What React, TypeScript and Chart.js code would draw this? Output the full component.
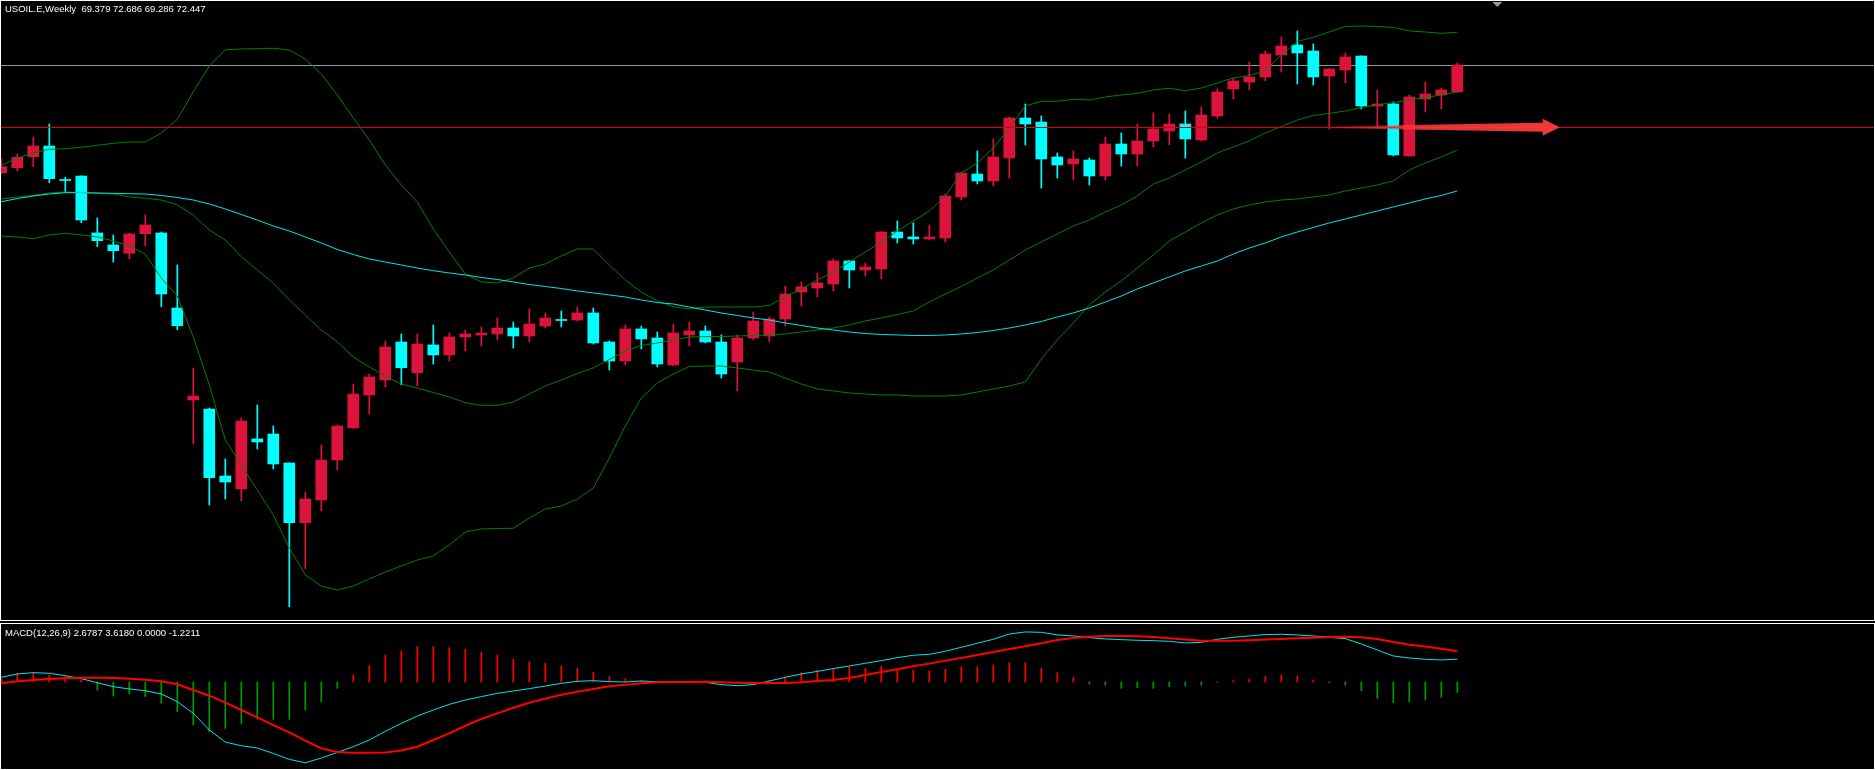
import React, { useEffect, useRef } from "react";
import { Chart, registerables } from "chart.js";

Chart.register(...registerables);

// ---------------- data (weekly USOIL.E) ----------------
const symbolTitle = "USOIL.E,Weekly";
const lastBarText = "69.379 72.686 69.286 72.447";
const macdTitle = "MACD(12,26,9)";
const macdText = "2.6787 3.6180 0.0000 -1.2211";

const openP = [
  60.06, 60.63, 61.90, 63.13, 59.28, 59.68, 53.13, 51.75, 50.79, 53.04,
  53.13, 44.50, 33.92, 32.89, 25.18, 23.69, 29.44, 30.01, 26.68, 19.81,
  22.42, 27.02, 30.73, 34.50, 36.22, 40.59, 37.06, 40.25, 39.10, 41.17,
  41.40, 41.51, 42.20, 41.28, 42.43, 43.18, 43.12, 43.93, 40.59, 38.41,
  42.09, 41.05, 37.95, 41.40, 41.86, 40.59, 38.29, 41.05, 41.28, 43.24,
  46.34, 46.80, 47.26, 49.91, 48.87, 48.99, 53.24, 52.67, 52.44, 52.55,
  57.27, 59.91, 59.11, 61.75, 66.35, 65.89, 61.87, 61.06, 61.52, 59.68,
  63.36, 62.21, 63.71, 64.86, 65.66, 63.82, 66.58, 69.69, 70.49, 71.07,
  73.60, 74.75, 74.06, 71.18, 71.87, 73.48, 67.73, 67.96, 61.98, 68.54,
  68.99, 69.379,
];
const highP = [
  61.64, 62.21, 64.17, 65.66, 59.53, 59.70, 54.85, 52.90, 53.09, 55.20,
  53.24, 49.45, 37.60, 33.00, 27.14, 31.85, 33.35, 30.93, 26.70, 23.34,
  28.75, 31.05, 35.76, 36.91, 40.71, 41.51, 41.51, 42.55, 41.63, 41.97,
  42.32, 43.35, 42.89, 44.39, 43.93, 44.16, 44.62, 44.50, 40.71, 42.55,
  42.43, 41.74, 42.66, 42.89, 42.43, 41.40, 41.40, 44.04, 43.47, 47.03,
  47.49, 48.53, 50.14, 49.95, 49.68, 53.28, 54.51, 54.28, 54.05, 57.61,
  60.14, 62.56, 63.94, 66.47, 67.96, 66.58, 62.33, 62.56, 61.75, 64.17,
  64.63, 65.66, 66.93, 66.81, 67.16, 67.62, 69.69, 70.95, 72.79, 74.06,
  75.67, 76.36, 74.86, 72.02, 73.83, 73.50, 69.57, 68.19, 68.99, 70.49,
  69.80, 72.686,
];
const lowP = [
  59.91, 60.29, 60.75, 58.91, 57.76, 54.31, 51.55, 49.79, 50.14, 51.66,
  44.65, 42.00, 28.89, 21.85, 22.54, 22.31, 28.29, 25.99, 10.15, 14.52,
  21.16, 25.87, 30.65, 32.31, 35.42, 35.65, 35.53, 38.06, 38.41, 39.56,
  40.13, 40.82, 39.90, 40.59, 42.20, 42.32, 43.01, 40.36, 37.37, 37.95,
  39.79, 37.72, 37.83, 40.13, 40.48, 36.45, 34.96, 40.82, 40.59, 42.43,
  44.73, 45.77, 46.46, 46.80, 48.18, 47.84, 51.98, 51.86, 52.32, 52.09,
  56.92, 58.76, 58.53, 59.45, 63.25, 58.30, 59.45, 59.22, 58.65, 59.22,
  60.83, 60.83, 63.02, 63.25, 61.75, 63.71, 66.35, 68.54, 69.57, 70.61,
  71.64, 70.26, 70.15, 65.09, 70.38, 67.39, 65.43, 61.98, 61.95, 67.04,
  67.39, 69.286,
];
const closeP = [
  60.75, 61.83, 63.13, 59.37, 59.16, 54.62, 52.24, 51.09, 53.01, 54.05,
  46.11, 42.46, 34.38, 24.98, 24.49, 31.51, 29.09, 26.56, 19.81, 22.54,
  27.02, 30.93, 34.61, 36.57, 40.02, 37.63, 40.36, 39.10, 41.17, 41.51,
  41.63, 42.20, 41.28, 42.66, 43.35, 43.06, 43.93, 40.48, 38.41, 42.09,
  40.94, 38.06, 41.63, 41.86, 40.59, 36.91, 41.05, 43.01, 43.24, 46.11,
  46.92, 47.38, 49.91, 48.87, 49.22, 53.24, 52.55, 52.44, 52.67, 57.38,
  60.03, 59.11, 61.87, 66.35, 65.66, 61.64, 60.95, 61.64, 59.68, 63.36,
  62.21, 63.71, 65.09, 65.66, 63.94, 66.70, 69.34, 70.61, 71.07, 73.71,
  74.63, 73.83, 71.07, 71.99, 73.37, 67.73, 67.96, 62.10, 68.77, 69.11,
  69.57, 72.447,
];

const bbUpper = [
  60.91, 61.72, 62.36, 62.75, 62.82, 62.98, 63.21, 63.44, 63.59, 63.59,
  64.63, 66.20, 69.37, 72.33, 74.20, 74.29, 74.32, 74.37, 74.17, 73.14,
  71.41, 69.00, 66.35, 63.82, 60.95, 58.65, 56.69, 53.59, 50.94, 48.41,
  47.49, 47.38, 47.95, 49.10, 49.56, 50.48, 51.29, 51.29, 49.45, 47.72,
  46.34, 45.31, 44.65, 44.39, 44.62, 44.62, 44.62, 44.62, 44.79, 45.77,
  46.69, 47.72, 48.64, 49.79, 50.94, 52.09, 53.36, 54.51, 55.66, 57.38,
  60.03, 61.18, 62.90, 65.20, 67.73, 68.27, 68.27, 68.50, 68.42, 68.77,
  69.00, 69.19, 69.57, 69.77, 69.49, 69.80, 70.38, 70.95, 71.24, 71.76,
  73.60, 75.15, 75.63, 76.24, 76.87, 76.93, 76.87, 76.78, 76.36, 76.24,
  76.09, 76.21,
];
const bbMiddle = [
  57.04, 57.27, 57.44, 57.73, 57.84, 57.78, 57.67, 57.61, 57.27, 57.12,
  56.92, 56.35, 55.20, 53.47, 52.32, 50.40, 48.87, 47.38, 45.42, 43.70,
  41.97, 40.59, 38.87, 37.72, 36.68, 35.76, 35.30, 34.78, 34.27, 33.61,
  33.31, 33.31, 33.69, 34.61, 35.53, 36.22, 36.97, 37.60, 38.58, 39.56,
  40.19, 40.48, 40.82, 41.17, 41.20, 41.22, 41.28, 41.34, 41.40, 41.51,
  41.74, 41.97, 42.20, 42.55, 43.01, 43.35, 43.75, 44.16, 45.19, 46.11,
  46.97, 47.95, 48.87, 50.02, 51.17, 52.09, 53.01, 53.93, 54.62, 55.54,
  56.35, 57.38, 58.76, 59.45, 60.37, 61.29, 62.33, 63.02, 63.71, 64.63,
  65.37, 66.12, 66.64, 66.87, 67.16, 67.56, 67.85, 68.13, 68.42, 68.71,
  69.00, 69.37,
];
const bbLower = [
  52.78, 52.67, 52.47, 52.90, 53.09, 52.90, 52.67, 52.21, 51.63, 50.71,
  47.95, 45.88, 41.17, 35.65, 29.32, 26.45, 23.57, 20.70, 16.90, 13.80,
  12.53, 12.07, 12.53, 13.34, 14.14, 14.83, 15.52, 15.98, 17.25, 18.74,
  19.09, 19.14, 19.17, 20.35, 21.39, 21.73, 22.54, 23.80, 27.25, 30.93,
  34.15, 35.88, 36.91, 37.77, 37.83, 37.83, 37.60, 37.37, 37.14, 36.45,
  35.76, 35.19, 34.96, 34.73, 34.61, 34.50, 34.50, 34.38, 34.38, 34.38,
  34.50, 34.84, 35.19, 35.53, 35.99, 38.64, 40.82, 42.78, 44.85, 46.34,
  47.61, 49.10, 50.60, 52.21, 53.24, 54.28, 55.20, 55.89, 56.35, 56.69,
  56.92, 57.04, 57.27, 57.50, 57.96, 58.30, 58.65, 59.11, 60.37, 61.18,
  61.87, 62.67,
];
const maSlow = [
  56.72, 57.09, 57.38, 57.61, 57.76, 57.76, 57.73, 57.69, 57.64, 57.61,
  57.44, 57.21, 56.92, 56.46, 55.89, 55.25, 54.62, 53.93, 53.36, 52.67,
  51.98, 51.23, 50.65, 50.14, 49.79, 49.45, 49.10, 48.79, 48.53, 48.30,
  48.01, 47.78, 47.49, 47.20, 46.97, 46.74, 46.46, 46.23, 46.00, 45.77,
  45.42, 45.13, 44.96, 44.61, 44.27, 43.93, 43.64, 43.35, 43.12, 42.78,
  42.49, 42.20, 41.97, 41.74, 41.57, 41.45, 41.40, 41.34, 41.34, 41.40,
  41.51, 41.68, 41.91, 42.20, 42.55, 42.95, 43.47, 43.93, 44.50, 45.19,
  45.88, 46.69, 47.38, 48.07, 48.76, 49.33, 49.91, 50.71, 51.40, 51.98,
  52.67, 53.24, 53.76, 54.28, 54.74, 55.20, 55.66, 56.12, 56.58, 57.04,
  57.44, 57.96,
];

const macdMain = [
  0.55, 0.94, 1.10, 1.02, 0.74, 0.39, -0.08, -0.55, -0.82, -1.02,
  -1.41, -2.31, -3.68, -5.64, -7.06, -7.49, -7.76, -8.39, -9.09, -9.49,
  -8.94, -8.27, -7.60, -6.82, -5.80, -4.86, -4.00, -3.29, -2.63, -2.12,
  -1.72, -1.33, -1.06, -0.78, -0.47, -0.16, 0.08, 0.16, 0.04, 0.00,
  0.12, 0.04, 0.00, 0.04, -0.04, -0.31, -0.43, -0.31, 0.12, 0.55,
  0.94, 1.25, 1.57, 1.88, 2.20, 2.51, 2.86, 3.14, 3.25, 3.61,
  4.08, 4.55, 5.02, 5.64, 5.88, 5.84, 5.53, 5.41, 5.21, 5.06,
  4.98, 4.90, 4.86, 4.78, 4.59, 4.66, 5.02, 5.25, 5.41, 5.57,
  5.61, 5.53, 5.41, 5.25, 5.10, 4.47, 3.76, 3.06, 2.82, 2.67,
  2.59, 2.68,
];
const macdSignal = [
  -0.16, 0.08, 0.24, 0.35, 0.43, 0.51, 0.51, 0.47, 0.39, 0.27,
  0.08, -0.27, -0.94, -1.61, -2.43, -3.29, -4.16, -5.06, -5.92, -6.90,
  -7.80, -8.23, -8.31, -8.31, -8.27, -8.04, -7.60, -6.82, -6.04, -5.14,
  -4.35, -3.68, -3.02, -2.43, -1.96, -1.49, -1.14, -0.82, -0.51, -0.31,
  -0.16, -0.04, 0.00, 0.00, 0.04, -0.04, -0.08, -0.12, -0.08, -0.12,
  -0.04, 0.12, 0.24, 0.47, 0.82, 1.18, 1.49, 1.84, 2.16, 2.51,
  2.82, 3.18, 3.53, 3.88, 4.19, 4.55, 4.94, 5.17, 5.33, 5.41,
  5.41, 5.37, 5.29, 5.14, 4.98, 4.86, 4.86, 4.86, 4.90, 4.98,
  5.06, 5.14, 5.21, 5.29, 5.33, 5.25, 5.06, 4.70, 4.39, 4.16,
  3.92, 3.62,
];
const macdHist = [
  0.40, 1.02, 1.14, 0.82, 0.63, 0.24, -0.94, -1.65, -1.41, -1.72,
  -2.51, -3.49, -5.06, -5.84, -5.45, -4.86, -4.39, -4.39, -4.39, -3.29,
  -2.31, -0.74, 0.82, 1.92, 3.18, 3.65, 4.16, 4.16, 4.04, 3.84,
  3.49, 3.18, 2.67, 2.39, 2.20, 1.88, 1.61, 1.14, 0.63, 0.39,
  0.16, 0.08, 0.04, 0.08, 0.12, -0.08, -0.16, -0.08, 0.16, 0.63,
  1.10, 1.41, 1.61, 1.80, 1.61, 1.88, 1.61, 1.41, 1.33, 1.49,
  1.80, 1.80, 2.00, 2.27, 2.27, 1.61, 1.10, 0.55, -0.24, -0.35,
  -0.74, -0.67, -0.74, -0.55, -0.47, -0.35, 0.04, 0.16, 0.31, 0.63,
  0.82, 0.71, 0.24, -0.08, -0.35, -1.02, -1.92, -2.43, -2.31, -2.12,
  -1.80, -1.22,
];

const bidPrice = 72.447;
const levelPrice = 65.28;
const arrowFromBar = 83.2;
const arrowToBar = 97.4;
const arrowPrice = 65.3;
const shiftMarkBar = 93.5;

// ---------------- view ----------------
const PRICE_MIN = 8.62;
const PRICE_MAX = 79.805;
const MACD_MIN = -10.2225;
const MACD_MAX = 6.815;
const X_MIN = -0.019;
const X_MAX = 117.044;

const BULL = "#DC143C";
const BEAR = "#00FFFF";
const BAND = "#008000";
const MA_COL = "#00E5EE";
const FONT = '9.5px "Liberation Sans", Arial, sans-serif';

const mainOverlay = {
  id: "mainOverlay",
  beforeDatasetsDraw(chart: any) {
    const { ctx, chartArea, scales } = chart;
    const y = Math.round(scales.y.getPixelForValue(bidPrice)) + 0.5;
    ctx.save();
    ctx.strokeStyle = "#8E9AA6";
    ctx.lineWidth = 1;
    ctx.beginPath();
    ctx.moveTo(chartArea.left, y);
    ctx.lineTo(chartArea.right, y);
    ctx.stroke();
    ctx.restore();
  },
  afterDatasetsDraw(chart: any) {
    const { ctx, chartArea, scales } = chart;
    const xs = scales.x;
    const ys = scales.y;
    ctx.save();
    const yl = Math.round(ys.getPixelForValue(levelPrice)) + 0.5;
    ctx.strokeStyle = "#E00000";
    ctx.lineWidth = 1;
    ctx.beginPath();
    ctx.moveTo(chartArea.left, yl);
    ctx.lineTo(chartArea.right, yl);
    ctx.stroke();
    const x0 = xs.getPixelForValue(arrowFromBar);
    const x1 = xs.getPixelForValue(arrowToBar);
    const ya = ys.getPixelForValue(arrowPrice);
    const headLen = 17;
    const grad = ctx.createLinearGradient(x0, 0, x1, 0);
    grad.addColorStop(0, "rgba(255,60,60,0.25)");
    grad.addColorStop(0.4, "rgba(255,60,60,0.85)");
    grad.addColorStop(1, "rgba(255,60,60,0.95)");
    ctx.fillStyle = grad;
    ctx.beginPath();
    ctx.moveTo(x0, ya - 1);
    ctx.lineTo(x1 - headLen, ya - 4.5);
    ctx.lineTo(x1 - headLen, ya - 8.5);
    ctx.lineTo(x1, ya);
    ctx.lineTo(x1 - headLen, ya + 8.5);
    ctx.lineTo(x1 - headLen, ya + 4.5);
    ctx.lineTo(x0, ya + 1);
    ctx.closePath();
    ctx.fill();
    const xm = xs.getPixelForValue(shiftMarkBar);
    ctx.fillStyle = "#8E9AA6";
    ctx.beginPath();
    ctx.moveTo(xm - 5, chartArea.top + 1);
    ctx.lineTo(xm + 5, chartArea.top + 1);
    ctx.lineTo(xm, chartArea.top + 6);
    ctx.closePath();
    ctx.fill();
    ctx.restore();
  },
};

function MainPanel() {
  const ref = useRef<HTMLCanvasElement | null>(null);
  useEffect(() => {
    const idx = closeP.map((_, i) => i);
    const colors = idx.map((i) => (closeP[i] >= openP[i] ? BULL : BEAR));
    const line = (vals: number[], color: string, order: number) => ({
      type: "line" as const,
      data: idx.map((i) => ({ x: i, y: vals[i] })),
      borderColor: color,
      borderWidth: 1,
      pointRadius: 0,
      tension: 0,
      fill: false,
      order,
    });
    const chart = new Chart(ref.current as HTMLCanvasElement, {
      type: "bar",
      data: {
        datasets: [
          line(bbUpper, BAND, 1),
          line(bbMiddle, BAND, 1),
          line(bbLower, BAND, 1),
          line(maSlow, MA_COL, 0),
          {
            type: "bar",
            data: idx.map((i) => ({ x: i, y: [openP[i], closeP[i]] })),
            backgroundColor: colors,
            borderWidth: 0,
            barThickness: 11,
            minBarLength: 1,
            grouped: false,
            order: 5,
          } as any,
          {
            type: "bar",
            data: idx.map((i) => ({ x: i, y: [lowP[i], highP[i]] })),
            backgroundColor: colors,
            borderWidth: 0,
            barThickness: 1,
            grouped: false,
            order: 6,
          } as any,
        ],
      },
      options: {
        responsive: false,
        animation: false,
        events: [],
        layout: { padding: 0 },
        plugins: { legend: { display: false }, tooltip: { enabled: false } },
        scales: {
          x: { type: "linear", min: X_MIN, max: X_MAX, display: false, offset: false },
          y: { type: "linear", min: PRICE_MIN, max: PRICE_MAX, display: false },
        },
      } as any,
      plugins: [mainOverlay],
    });
    return () => chart.destroy();
  }, []);
  return (
    <canvas
      ref={ref}
      width={1873}
      height={619}
      style={{ position: "absolute", left: 1, top: 1, width: 1873, height: 619 }}
    />
  );
}

function MacdPanel() {
  const ref = useRef<HTMLCanvasElement | null>(null);
  useEffect(() => {
    const idx = macdHist.map((_, i) => i);
    const chart = new Chart(ref.current as HTMLCanvasElement, {
      type: "bar",
      data: {
        datasets: [
          {
            type: "line",
            data: idx.map((i) => ({ x: i, y: macdSignal[i] })),
            borderColor: "#FF0000",
            borderWidth: 2,
            pointRadius: 0,
            tension: 0,
            order: 0,
          } as any,
          {
            type: "line",
            data: idx.map((i) => ({ x: i, y: macdMain[i] })),
            borderColor: "#00E5EE",
            borderWidth: 1,
            pointRadius: 0,
            tension: 0,
            order: 1,
          } as any,
          {
            type: "bar",
            data: idx.map((i) => ({ x: i, y: [0, macdHist[i]] })),
            backgroundColor: idx.map((i) => (macdHist[i] >= 0 ? "#FF0000" : "#009A00")),
            borderWidth: 0,
            barThickness: 1,
            grouped: false,
            order: 2,
          } as any,
        ],
      },
      options: {
        responsive: false,
        animation: false,
        events: [],
        layout: { padding: 0 },
        plugins: { legend: { display: false }, tooltip: { enabled: false } },
        scales: {
          x: { type: "linear", min: X_MIN, max: X_MAX, display: false, offset: false },
          y: { type: "linear", min: MACD_MIN, max: MACD_MAX, display: false },
        },
      } as any,
    });
    return () => chart.destroy();
  }, []);
  return (
    <canvas
      ref={ref}
      width={1873}
      height={145}
      style={{ position: "absolute", left: 1, top: 624, width: 1873, height: 145 }}
    />
  );
}

export default function App() {
  useEffect(() => {
    document.body.style.margin = "0";
    document.body.style.background = "#000";
  }, []);
  const label: React.CSSProperties = {
    position: "absolute",
    left: 5,
    color: "#FFFFFF",
    font: FONT,
    whiteSpace: "pre",
    lineHeight: "10px",
  };
  return (
    <div style={{ position: "relative", width: 1875, height: 770, background: "#000", overflow: "hidden" }}>
      <div
        style={{
          position: "absolute", left: 0, top: 0, width: 1875, height: 621,
          boxSizing: "border-box", border: "1px solid #FFFFFF",
        }}
      />
      <div
        style={{
          position: "absolute", left: 0, top: 623, width: 1875, height: 147,
          boxSizing: "border-box", border: "1px solid #FFFFFF",
        }}
      />
      <MainPanel />
      <MacdPanel />
      <div style={{ ...label, top: 4 }}>{symbolTitle + "  " + lastBarText}</div>
      <div style={{ ...label, top: 628 }}>{macdTitle + " " + macdText}</div>
    </div>
  );
}
